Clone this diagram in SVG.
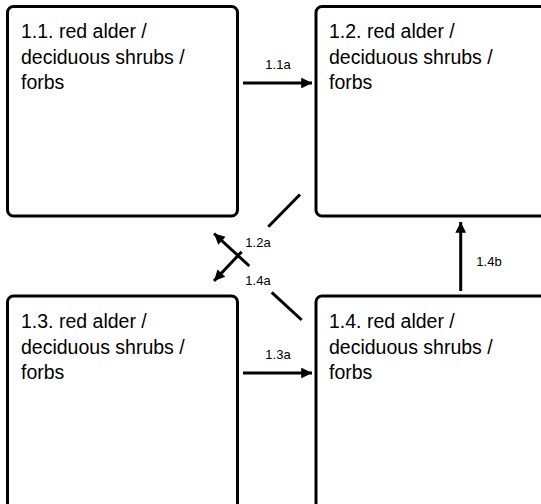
<svg xmlns="http://www.w3.org/2000/svg" width="541" height="504" viewBox="0 0 541 504">
<style>
.box{fill:#fff;stroke:#000;stroke-width:3}
.t{font-family:"Liberation Sans",Arial,sans-serif;font-size:19.5px;fill:#000}
.l{font-family:"Liberation Sans",Arial,sans-serif;font-size:13px;fill:#000;text-anchor:middle}
.c{stroke:#000;stroke-width:3;fill:none}
</style>
<defs>
<marker id="ah" viewBox="0 0 10 10" refX="10" refY="5" markerWidth="4" markerHeight="3.6" orient="auto" markerUnits="strokeWidth">
<path d="M0,0 L10,5 L0,10 Z" fill="#000"/>
</marker>
</defs>
<rect width="541" height="504" fill="#fff"/>
<g id="n11">
<rect class="box" x="7.5" y="6.5" width="230" height="209.5" rx="6"/>
<text class="t" x="21" y="38">1.1. red alder /</text>
<text class="t" x="21" y="64">deciduous shrubs /</text>
<text class="t" x="21" y="89">forbs</text>
</g>
<g id="n12">
<rect class="box" x="316" y="6.5" width="240" height="209.5" rx="6"/>
<text class="t" x="329" y="38">1.2. red alder /</text>
<text class="t" x="329" y="64">deciduous shrubs /</text>
<text class="t" x="329" y="89">forbs</text>
</g>
<g id="n13">
<rect class="box" x="7.5" y="296" width="230" height="220" rx="6"/>
<text class="t" x="21" y="327.5">1.3. red alder /</text>
<text class="t" x="21" y="353.5">deciduous shrubs /</text>
<text class="t" x="21" y="378.5">forbs</text>
</g>
<g id="n14">
<rect class="box" x="316" y="296" width="240" height="220" rx="6"/>
<text class="t" x="329" y="327.5">1.4. red alder /</text>
<text class="t" x="329" y="353.5">deciduous shrubs /</text>
<text class="t" x="329" y="378.5">forbs</text>
</g>
<g id="connectors">
<line class="c" x1="243" y1="83" x2="312" y2="83" marker-end="url(#ah)"/>
<text class="l" x="278" y="69">1.1a</text>
<line class="c" x1="243" y1="373" x2="312" y2="373" marker-end="url(#ah)"/>
<text class="l" x="278" y="359">1.3a</text>
<line class="c" x1="460.7" y1="291" x2="460.7" y2="222" marker-end="url(#ah)"/>
<text class="l" x="489" y="266">1.4b</text>
<line class="c" x1="300" y1="194.5" x2="268.3" y2="226.7"/>
<line class="c" x1="249.3" y1="266" x2="214" y2="233.5" marker-end="url(#ah)"/>
<text class="l" x="258" y="246.5">1.2a</text>
<line class="c" x1="241.7" y1="251.7" x2="214" y2="281" marker-end="url(#ah)"/>
<text class="l" x="258" y="285">1.4a</text>
<line class="c" x1="271.7" y1="292.3" x2="301.7" y2="320"/>
</g>
</svg>
